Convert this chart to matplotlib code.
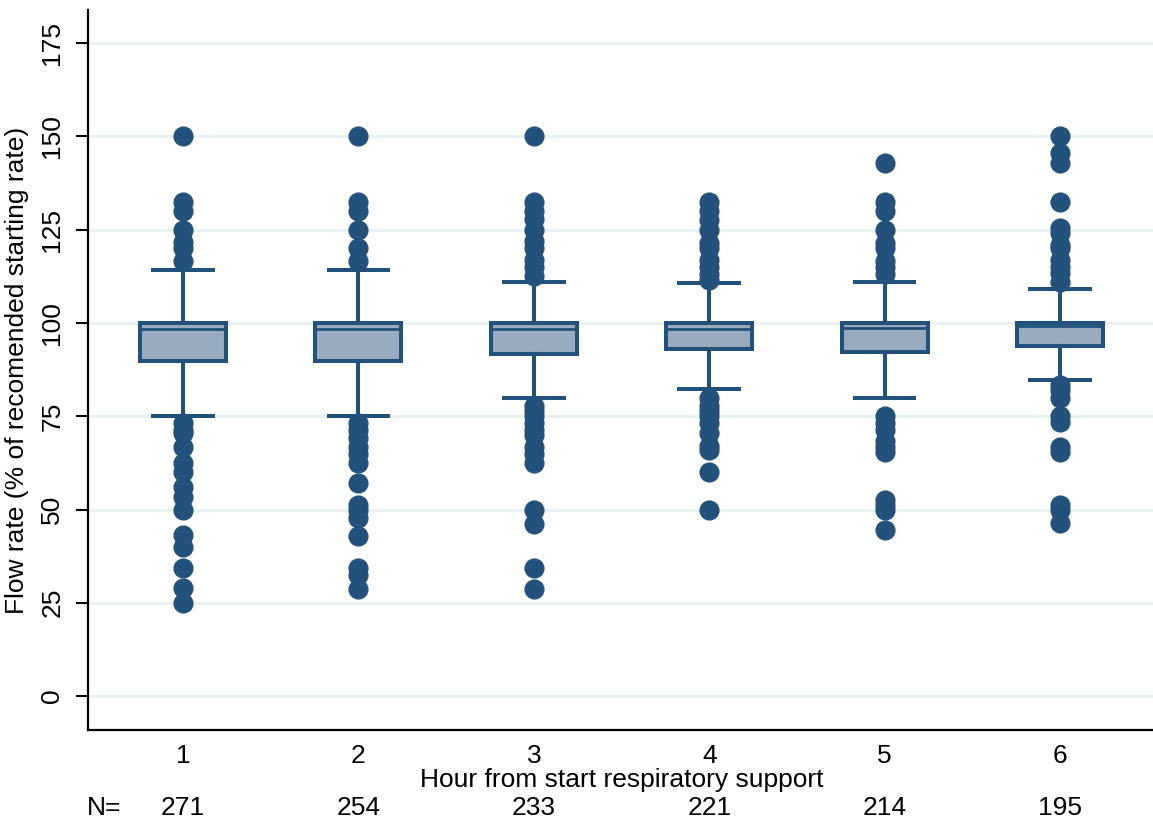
import matplotlib
matplotlib.use("Agg")
import matplotlib.pyplot as plt
import matplotlib.transforms as mtransforms

plt.rcParams['font.family'] = ['Liberation Sans', 'DejaVu Sans']

# data
hours = [1, 2, 3, 4, 5, 6]
counts = [271, 254, 233, 221, 214, 195]
q1 = [89.8, 89.8, 91.8, 93.0, 92.2, 93.9]
medians = [98.5, 98.5, 98.5, 98.5, 98.6, 99.3]
q3 = [100, 100, 100, 100, 100, 100]
whisk_lo = [75, 75, 80, 82.4, 80, 84.6]
whisk_hi = [114.3, 114.3, 111.1, 110.7, 111.1, 109.1]
outliers = [
    [150, 132.5, 130, 125, 121.7, 120, 116.7,
     73.3, 71.4, 70.5, 66.7, 62.5, 60, 56, 53.3, 50, 43.2, 40, 34.3, 28.9, 25],
    [150, 132.5, 130, 125, 120, 116.7,
     73.3, 71.4, 69.2, 66.7, 65, 62.5, 57.1, 51.2, 50, 47.6, 42.9, 34.3, 32.5, 28.6],
    [150, 132.5, 130, 128, 125, 122, 120, 117, 115, 112.5,
     77.8, 76.5, 75, 73.3, 71.4, 70, 66.7, 65, 62.5, 50, 46, 34.3, 28.6],
    [132.5, 130, 127.5, 125, 121.4, 120, 117, 115, 113, 111.5,
     80, 77.8, 76.5, 75, 73.3, 70.6, 67, 66, 60, 50],
    [142.9, 132.5, 130, 125, 121.4, 120, 116.7, 115, 113,
     75, 73.3, 71.4, 68.4, 66.7, 65.4, 52.6, 51.2, 50, 44.4],
    [150, 145.5, 142.9, 132.5, 125.4, 124, 121, 120, 117, 115, 113.3, 111,
     83.3, 82, 80, 75, 73.5, 66.7, 65.5, 51.2, 50, 46.4],
]
yticks = [0, 25, 50, 75, 100, 125, 150, 175]

navy = '#22527b'
fill = '#98abbf'
grid_col = '#e9f1f1'
fs = 19

fig = plt.figure(figsize=(11.53, 8.27), dpi=100)
ax = fig.add_axes([88 / 1153, 97 / 827, 1065 / 1153, 720 / 827])

stats = []
for i in range(len(hours)):
    stats.append(dict(med=medians[i], q1=q1[i], q3=q3[i],
                      whislo=whisk_lo[i], whishi=whisk_hi[i],
                      fliers=outliers[i], label=str(hours[i])))

ax.bxp(stats, positions=hours, widths=0.49, patch_artist=True,
       boxprops=dict(facecolor=fill, edgecolor=navy, linewidth=2.9),
       medianprops=dict(color=navy, linewidth=2.0),
       whiskerprops=dict(color=navy, linewidth=2.9),
       capprops=dict(color=navy, linewidth=2.9),
       capwidths=0.34,
       flierprops=dict(marker='o', markersize=13.5, markerfacecolor=navy,
                       markeredgecolor=navy, linestyle='none'),
       zorder=3)

for y in yticks:
    ax.axhline(y, color=grid_col, linewidth=2.2, zorder=0)

ax.set_xlim(0.458, 6.53)
ax.set_ylim(-9.1, 183.9)
ax.set_yticks(yticks)
ax.set_xticks(hours)
ax.set_xticklabels([str(h) for h in hours])

for side in ['top', 'right']:
    ax.spines[side].set_visible(False)
ax.spines['left'].set_linewidth(1.6)
ax.spines['bottom'].set_linewidth(1.6)

ax.tick_params(axis='y', length=9, width=1.5, labelsize=fs, pad=8,
               labelrotation=90)
for lab in ax.get_yticklabels():
    lab.set_va('center')
ax.tick_params(axis='x', length=0, labelsize=fs, pad=10)

ax.set_xlabel('Hour from start respiratory support', fontsize=fs)
ax.xaxis.set_label_coords(0.501, -0.053)
ax.set_ylabel('Flow rate (% of recomended starting rate)', fontsize=fs)
ax.yaxis.set_label_coords(-0.055, 0.5)

trans = mtransforms.blended_transform_factory(ax.transData, ax.transAxes)
for h, n in zip(hours, counts):
    ax.text(h, -0.108, str(n), transform=trans, ha='center', va='center',
            fontsize=fs)
ax.text(0.015, -0.108, 'N=', transform=ax.transAxes, ha='center',
        va='center', fontsize=fs)

fig.savefig('out.png', dpi=100)
